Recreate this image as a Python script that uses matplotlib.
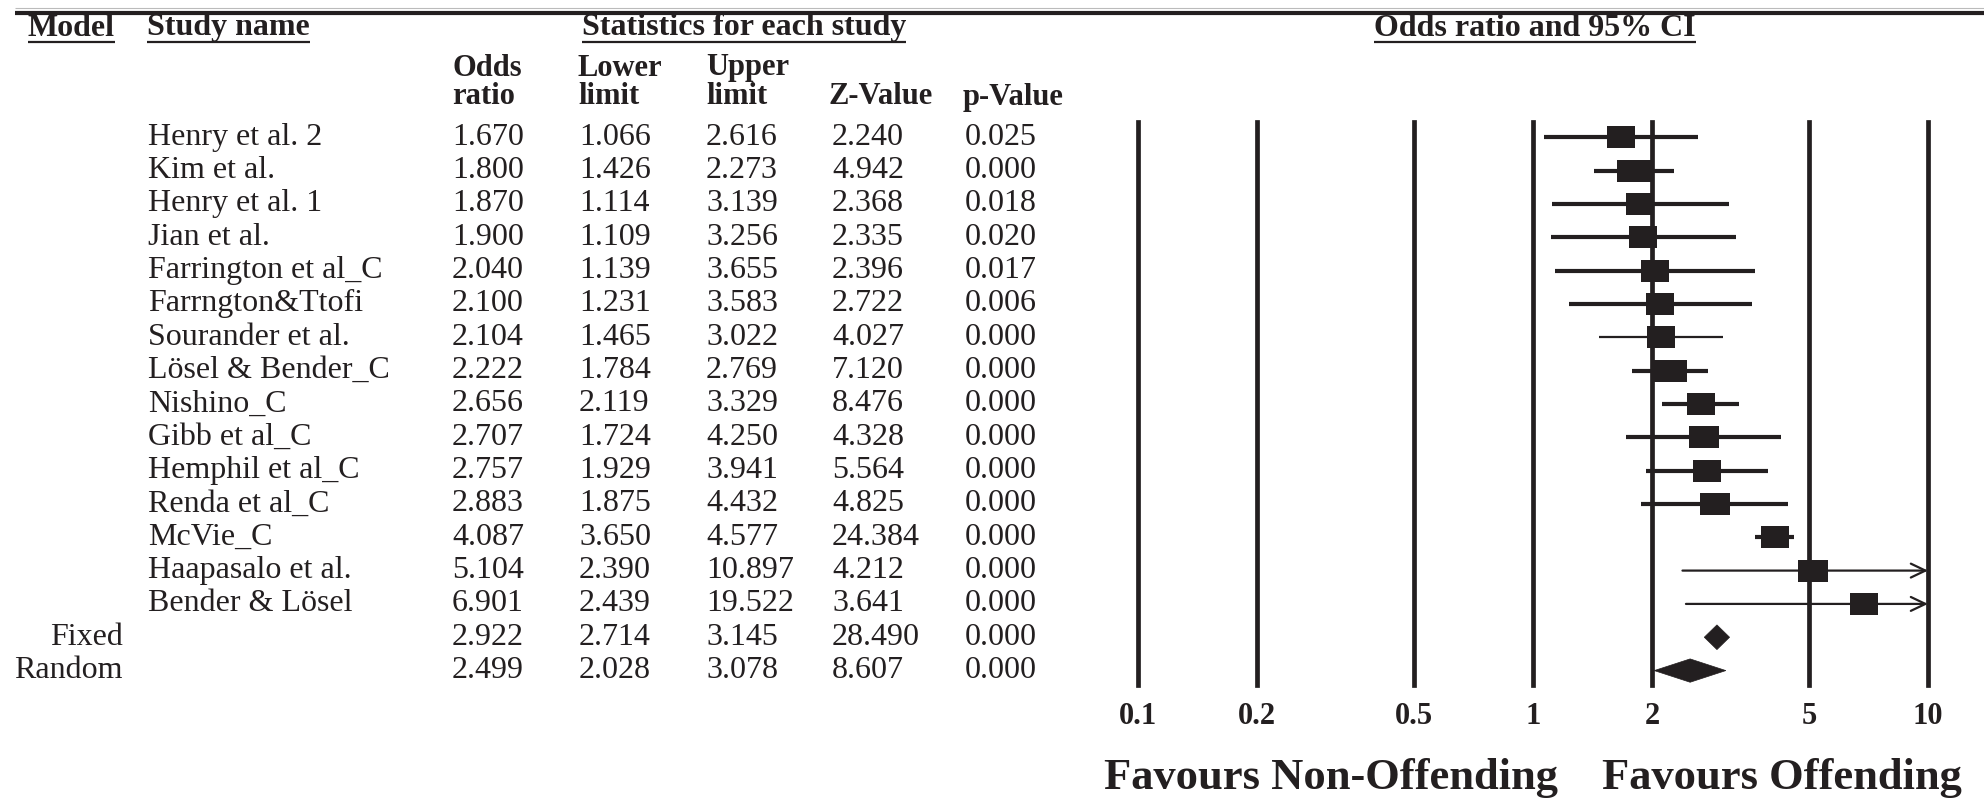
import matplotlib
matplotlib.use('Agg')
import matplotlib.pyplot as plt
import matplotlib.transforms as mtransforms
from matplotlib.patches import Polygon
from matplotlib.path import Path
from matplotlib.ticker import NullLocator

plt.rcParams['font.family'] = ['Liberation Serif', 'DejaVu Serif']

# ---- data ----
studies = ['Henry et al. 2', 'Kim et al.', 'Henry et al. 1', 'Jian et al.',
           'Farrington et al_C', 'Farrngton&Ttofi', 'Sourander et al.',
           'Lösel & Bender_C', 'Nishino_C', 'Gibb et al_C', 'Hemphil et al_C',
           'Renda et al_C', 'McVie_C', 'Haapasalo et al.', 'Bender & Lösel']
odds = [1.670, 1.800, 1.870, 1.900, 2.040, 2.100, 2.104, 2.222, 2.656,
        2.707, 2.757, 2.883, 4.087, 5.104, 6.901]
lower = [1.066, 1.426, 1.114, 1.109, 1.139, 1.231, 1.465, 1.784, 2.119,
         1.724, 1.929, 1.875, 3.650, 2.390, 2.439]
upper = [2.616, 2.273, 3.139, 3.256, 3.655, 3.583, 3.022, 2.769, 3.329,
         4.250, 3.941, 4.432, 4.577, 10.897, 19.522]
zval = [2.240, 4.942, 2.368, 2.335, 2.396, 2.722, 4.027, 7.120, 8.476,
        4.328, 5.564, 4.825, 24.384, 4.212, 3.641]
pval = [0.025, 0.000, 0.018, 0.020, 0.017, 0.006, 0.000, 0.000, 0.000,
        0.000, 0.000, 0.000, 0.000, 0.000, 0.000]
# relative box size
box_weight = [1.0, 1.26, 1.0, 1.0, 1.0, 1.0, 1.0, 1.26, 1.0, 1.1, 1.0,
              1.1, 1.0, 1.1, 1.0]

models = ['Fixed', 'Random']
sum_odds = [2.922, 2.499]
sum_lower = [2.714, 2.028]
sum_upper = [3.145, 3.078]
sum_z = [28.490, 8.607]
sum_p = [0.000, 0.000]

ticks = [0.1, 0.2, 0.5, 1, 2, 5, 10]
tick_labels = ['0.1', '0.2', '0.5', '1', '2', '5', '10']
thin_rows = ['Sourander et al.', 'Haapasalo et al.', 'Bender & Lösel']

INK = '#231f20'
FS = 23

W, H = 1984, 798
fig = plt.figure(figsize=(W / 100, H / 100), dpi=100)
fig.patch.set_facecolor('white')

# full-figure layer in pixel units for the table
tab = fig.add_axes([0, 0, 1, 1])
tab.set_xlim(0, W)
tab.set_ylim(H, 0)
tab.axis('off')

# forest plot axes
left, right, top, bot = 1138, 1928, 122, 685
row0, step = 137.3, 33.33
fax = fig.add_axes([left / W, 1 - bot / H, (right - left) / W, (bot - top) / H])
fax.set_xscale('log')
fax.set_xlim(0.1, 10)
fax.set_ylim((bot - row0) / step, (top - row0) / step)
fax.patch.set_alpha(0)
for s in fax.spines.values():
    s.set_visible(False)
fax.set_yticks([])
fax.set_xticks(ticks)
fax.set_xticklabels(tick_labels, fontweight='bold', fontsize=22, color=INK)
fax.xaxis.set_minor_locator(NullLocator())
fax.tick_params(axis='x', length=0, pad=12)

for t in ticks:
    fax.axvline(t, color=INK, lw=3.4, clip_on=False, zorder=1)


def rect_marker(width_px, height_px=22.0):
    r = height_px / width_px / 2
    return Path([(-0.5, -r), (0.5, -r), (0.5, r), (-0.5, r), (-0.5, -r)],
                [Path.MOVETO, Path.LINETO, Path.LINETO, Path.LINETO, Path.CLOSEPOLY])


n = len(studies)
for i in range(n):
    thin = studies[i] in thin_rows
    lw = 1.6 if thin else 3.0
    if upper[i] > 10:
        fax.annotate('', xy=(10, i), xytext=(lower[i], i),
                     arrowprops=dict(arrowstyle='->,head_length=1.05,head_width=0.5',
                                     color=INK, lw=lw, shrinkA=0, shrinkB=0),
                     annotation_clip=False, zorder=3)
    else:
        fax.plot([lower[i], upper[i]], [i, i], color=INK, lw=lw,
                 solid_capstyle='butt', zorder=3)
    wpx = 27.7 * box_weight[i]
    fax.plot(odds[i], i, marker=rect_marker(wpx), ms=wpx * 0.72,
             color=INK, mew=0, zorder=4, clip_on=False)

for j in range(len(models)):
    y = n + j
    h = 0.37 if j == 0 else 0.35
    fax.add_patch(Polygon([(sum_lower[j], y), (sum_odds[j], y - h),
                           (sum_upper[j], y), (sum_odds[j], y + h)],
                          closed=True, facecolor=INK, edgecolor=INK, lw=0.5,
                          zorder=4, clip_on=False))

# ---- table text ----
trans = mtransforms.blended_transform_factory(tab.transData, fax.transData)

col_x = [452, 579, 706, 832, 965]
for i in range(n):
    tab.text(148, i, studies[i], transform=trans, fontsize=FS, va='center', color=INK)
    for x, v in zip(col_x, [odds[i], lower[i], upper[i], zval[i], pval[i]]):
        tab.text(x, i, f'{v:.3f}', transform=trans, fontsize=FS, va='center', color=INK)
for j in range(len(models)):
    y = n + j
    tab.text(123, y, models[j], transform=trans, fontsize=FS, va='center',
             ha='right', color=INK)
    for x, v in zip(col_x, [sum_odds[j], sum_lower[j], sum_upper[j], sum_z[j], sum_p[j]]):
        tab.text(x, y, f'{v:.3f}', transform=trans, fontsize=FS, va='center', color=INK)

# sub headers
sub = dict(fontsize=22, fontweight='bold', va='center', color=INK)
tab.text(452, 68, 'Odds', **sub)
tab.text(452, 97, 'ratio', **sub)
tab.text(578, 68, 'Lower', **sub)
tab.text(578, 97, 'limit', **sub)
tab.text(706, 68, 'Upper', **sub)
tab.text(706, 97, 'limit', **sub)
tab.text(829, 97, 'Z-Value', **sub)
tab.text(963, 97, 'p-Value', **sub)

# top rule
tab.plot([15, W], [8, 8], color='#bbbbbb', lw=0.8, solid_capstyle='butt')
tab.plot([15, W], [13, 13], color=INK, lw=3.0, solid_capstyle='butt')

# underlined headers
heads = [(28, 'left', 'Model'), (147, 'left', 'Study name'),
         (744, 'center', 'Statistics for each study'),
         (1535, 'center', 'Odds ratio and 95% CI')]
head_txt = [tab.text(x, 28, s, ha=ha, va='center', fontsize=FS,
                     fontweight='bold', color=INK) for x, ha, s in heads]

# favours labels
tab.text(1558, 778, 'Favours Non-Offending', ha='right', va='center',
         fontsize=32, fontweight='bold', color=INK)
tab.text(1602, 778, 'Favours Offending', ha='left', va='center',
         fontsize=32, fontweight='bold', color=INK)

fig.canvas.draw()
renderer = fig.canvas.get_renderer()
inv = tab.transData.inverted()
for t in head_txt:
    bb = t.get_window_extent(renderer)
    (x0, _), (x1, _) = inv.transform([(bb.x0, bb.y0), (bb.x1, bb.y1)])
    tab.plot([x0, x1], [42, 42], color=INK, lw=1.6, solid_capstyle='butt')

fig.savefig('out.png', dpi=100, facecolor='white')
